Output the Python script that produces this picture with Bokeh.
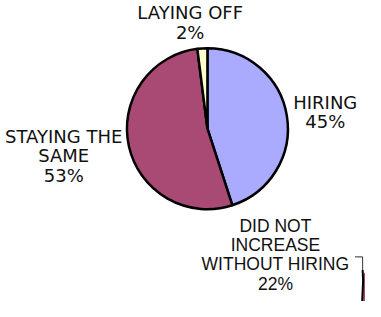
import math
from bokeh.plotting import figure
from bokeh.models import Range1d, ColumnDataSource
from bokeh.core.properties import value
from bokeh.embed import file_html
from bokeh.resources import INLINE

# ---- data ----
categories = ["HIRING", "STAYING THE SAME", "LAYING OFF"]
shares = [45, 53, 2]
colors = ["#AAAAFF", "#A84A74", "#FFFFCC"]
label_lines = [["HIRING"], ["STAYING THE", "SAME"], ["LAYING OFF"]]

other_label_lines = ["DID NOT", "INCREASE", "WITHOUT HIRING"]
other_share = 22

# ---- layout (reference pixel frame 381 x 317, y measured from top) ----
W, H = 381, 317
def fy(y):
    return H - y

cx, cy, r = 216, fy(135), 84
label_pos = [(339, 107), (66, 143), (198, 13)]   # first-line centres
other_pos = (287, 237)
step = 20.5

p = figure(width=365, height=301, x_range=Range1d(0, W), y_range=Range1d(0, H),
           output_backend="svg", toolbar_location=None, min_border=0)
p.axis.visible = False
p.grid.visible = False
p.outline_line_color = None
p.background_fill_color = "white"
p.border_fill_color = "white"

total = float(sum(shares))
starts, ends = [], []
a = math.pi / 2
for s in shares:
    starts.append(a)
    a = a - 2 * math.pi * s / total
    ends.append(a)

src = ColumnDataSource(dict(x=[cx] * len(shares), y=[cy] * len(shares),
                            start=starts, end=ends, color=colors))
p.wedge(x="x", y="y", radius=r, start_angle="start", end_angle="end",
        direction="clock", fill_color="color", line_color="black",
        line_width=2.5, source=src)

# labels of the pie
tx, ty, tt = [], [], []
for lines, share, (lx, ly) in zip(label_lines, shares, label_pos):
    allines = lines + [f"{share}%"]
    for i, t in enumerate(allines):
        tx.append(lx)
        ty.append(fy(ly + i * step))
        tt.append(t)
p.text(x=tx, y=ty, text=tt, text_align="center", text_baseline="middle",
       text_font=value("DejaVu Sans"), text_font_size="18px", text_color="#111111")

# label of the neighbouring (cropped) chart
ox, oy = other_pos
olines = other_label_lines + [f"{other_share}%"]
p.text(x=[ox] * len(olines), y=[fy(oy + i * step) for i in range(len(olines))],
       text=olines, text_align="center", text_baseline="middle",
       text_font=value("Liberation Sans"), text_font_size="17.5px", text_color="#111111")

# leader line and edge of neighbouring pie
p.line(x=[370, 378, 378], y=[fy(270), fy(270), fy(288)], line_color="#333333", line_width=1)
p.patch(x=[378.5, 381, 381, 377.5], y=[fy(288), fy(286), fy(317), fy(317)],
        fill_color="#A84A74", line_color=None)
p.line(x=[378, 378.5, 377.5], y=[fy(284), fy(295), fy(317)], line_color="black", line_width=2)

open("out.html", "w").write(file_html(p, INLINE))
